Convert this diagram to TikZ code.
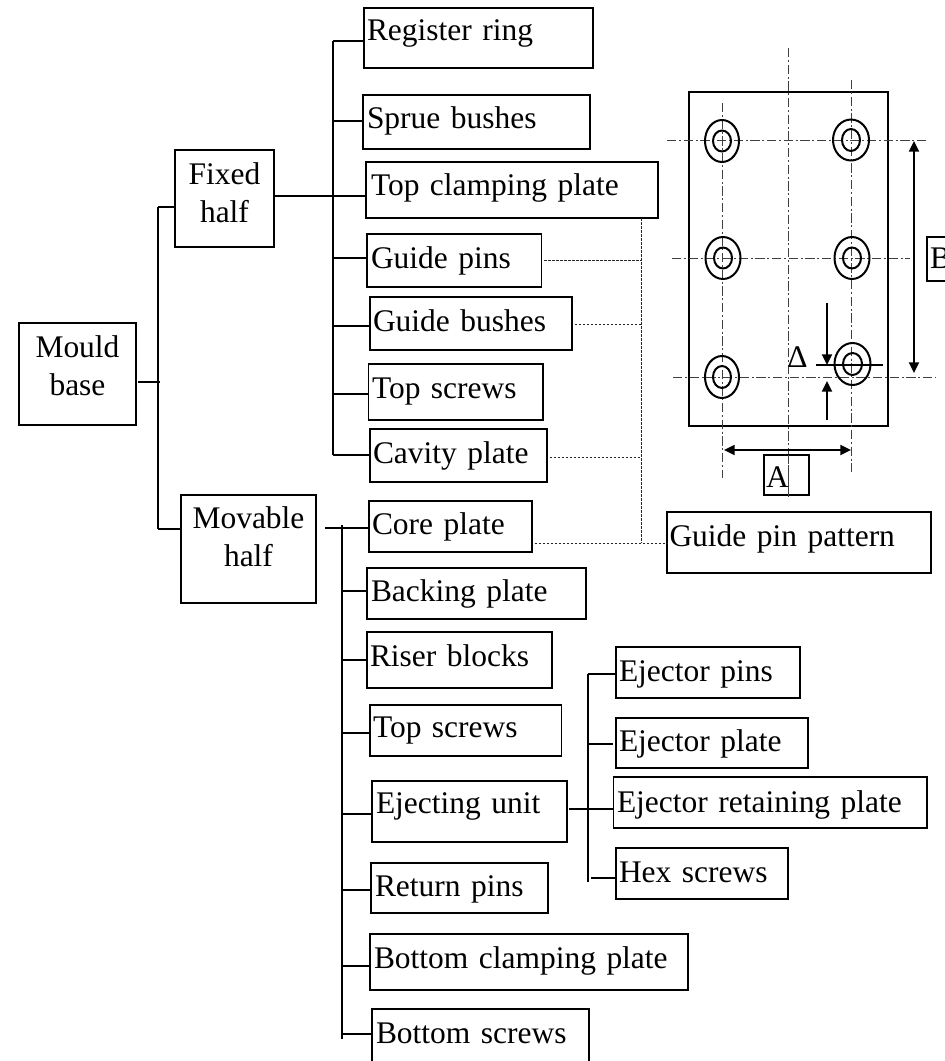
\documentclass[tikz,border=0pt]{standalone}
\usepackage{fontspec}
\setmainfont{Liberation Serif}
\usetikzlibrary{arrows.meta}
\newcommand\bx[9][]{%
  \pgfmathsetmacro\bxw{(#5-#3)*0.75}%
  \pgfmathsetmacro\bxh{(#8-#4)*0.75}%
  \pgfmathsetmacro\bxd{(#6-#8)*0.75}%
  \pgfmathsetmacro\bxi{(#7-#3)*0.75}%
  \node[boxnode,#1,text width=\bxw pt,text height=\bxh pt,text depth=\bxd pt] (#2) at (#3,#4) {\hspace*{\bxi pt}\mbox{#9}};%
}
\newcommand\cx[9][]{%
  \pgfmathsetmacro\bxw{(#5-#3)*0.75}%
  \pgfmathsetmacro\bxh{(#7-#4)*0.75}%
  \pgfmathsetmacro\bxd{(#6-#7)*0.75}%
  \node[boxnode,align=center,#1,text width=\bxw pt,text height=\bxh pt,text depth=\bxd pt] (#2) at (#3,#4) {#8\\#9};%
}
\tikzset{
  x=0.75pt,y=-0.75pt,
  boxnode/.style={draw=black,line width=1.4pt,inner sep=0pt,outer sep=0pt,anchor=north west,align=left,font=\fontsize{23.6}{28.5}\selectfont},
  conn/.style={line width=1.4pt,draw=black},
  dotline/.style={line width=0.7pt,draw=black!85,dash pattern=on 2pt off 1pt},
  centerline/.style={line width=0.7pt,draw=black!75,dash pattern=on 7pt off 2pt on 1.5pt off 2pt},
  hole/.style={line width=1.5pt,draw=black},
  plate/.style={line width=1.4pt,draw=black},
  dimline/.style={line width=1.4pt,draw=black},
  dimarrow/.style={dimline,{Triangle[length=8pt,width=7.5pt]}-{Triangle[length=8pt,width=7.5pt]}},
  onearrow/.style={dimline,-{Triangle[length=8pt,width=7.5pt]}},
}
\begin{document}
\begin{tikzpicture}
\useasboundingbox (0,0) rectangle (945,1061);
% plate drawing
\draw[plate] (689,92) rectangle (888,426);
\coordinate (cvT) at (788,48); \coordinate (cvB) at (788,497);
\coordinate (c1T) at (722,103); \coordinate (c1B) at (722,478);
\coordinate (c2T) at (851,80); \coordinate (c2B) at (851,472);
\coordinate (r1L) at (667,140); \coordinate (r1R) at (926,140);
\coordinate (r2L) at (672,258); \coordinate (r2R) at (910,258);
\coordinate (r3L) at (673,377); \coordinate (r3R) at (936,377);
\draw[centerline] (cvT) -- (cvB);
\draw[centerline] (c1T) -- (c1B);
\draw[centerline] (c2T) -- (c2B);
\draw[centerline] (r1L) -- (r1R);
\draw[centerline] (r2L) -- (r2R);
\draw[centerline] (r3L) -- (r3R);
\foreach \cxx/\cyy/\rx/\ry/\ix/\iy in {722/141/17/21/9/10.5, 851/140/18/20.5/9/11, 723/258/17.5/21/9/10.5, 852/258/17.5/21/9/10.5, 722/377/17/21/9/11, 852.5/364/18/21/9.5/11}{
  \draw[hole] (\cxx,\cyy) ellipse [x radius=\rx,y radius=\ry];
  \draw[hole] (\cxx,\cyy) ellipse [x radius=\ix,y radius=\iy];
}
% top level
\cx{mould}{19}{323}{136}{425}{357}{Mould}{base}
\cx{fixed}{175}{150}{274}{247}{184}{Fixed}{half}
\cx{movable}{181}{495}{316}{603}{528}{Movable}{half}
% fixed half children
\bx{reg}{364}{8}{593}{68}{367}{40}{Register ring}
\bx{sprue}{363}{95}{590}{149}{367}{128}{Sprue bushes}
\bx{tcp}{366}{162}{658}{218}{371}{195}{Top clamping plate}
\bx{gpins}{367}{234}{541.5}{287}{371}{268}{Guide pins}
\bx{gbush}{370}{297}{572}{350}{373}{331}{Guide bushes}
\bx{tscr}{368.5}{364}{543}{420}{372}{398}{Top screws}
\bx{cav}{370}{429}{547}{482}{373}{463}{Cavity plate}
% movable half children
\bx{core}{369}{501}{532}{552}{372}{534}{Core plate}
\bx{back}{367}{568}{586}{619}{371}{601}{Backing plate}
\bx{riser}{367}{632}{552}{688}{370}{666}{Riser blocks}
\bx{tscrb}{370}{705}{561.5}{756}{373}{737}{Top screws}
\bx{eject}{372}{781}{567}{842}{376}{813}{Ejecting unit}
\bx{ret}{371}{863}{548}{913}{375}{896}{Return pins}
\bx{bcp}{370}{934}{688}{990}{374}{968}{Bottom clamping plate}
\bx{bscr}{372}{1009}{589}{1068}{376}{1043}{Bottom screws}
% ejecting unit children
\bx{epins}{616}{647}{800}{698}{619}{681}{Ejector pins}
\bx{eplate}{616}{718}{808}{768}{619}{751}{Ejector plate}
\bx{eret}{613.5}{777}{927}{828}{617}{812}{Ejector retaining plate}
\bx{hex}{616}{848}{788}{899}{619}{882}{Hex screws}
% labels
\bx{gpp}{667}{512}{931}{573}{669.5}{546}{Guide pin pattern}
\bx{dimA}{764}{455}{809}{495}{766}{487}{A}
\bx{dimB}{927}{237}{952}{281}{930}{268}{B}
\node[font=\fontsize{23.6}{27}\selectfont,inner sep=0pt,anchor=base west] (delta) at (787,367) {Δ};
% redraw center line across A box
\draw[centerline] (dimA.north -| cvT) -- (cvB);
% root connectors
\coordinate (mj) at (160,382);
\coordinate (mT) at (158,207);
\coordinate (mB) at (158,529);
\draw[conn,shorten <=1.8pt] (mould.east |- mj) -- (mj);
\draw[conn] (mT) -- (mB);
\draw[conn] (mT) -- (mT -| fixed.west);
\draw[conn] (mB) -- (mB -| movable.west);
% fixed half tree
\coordinate (fT) at (333,41);
\coordinate (fS) at (333,121);
\coordinate (fC) at (333,196);
\coordinate (fG) at (333,258);
\coordinate (fB) at (333,326);
\coordinate (fN) at (333,394);
\coordinate (fV) at (333,455);
\draw[conn] (fT) -- (fV);
\draw[conn] (fT) -- (fT -| reg.west);
\draw[conn] (fS) -- (fS -| sprue.west);
\draw[conn] (fixed.east |- fC) -- (fC -| tcp.west);
\draw[conn] (fG) -- (fG -| gpins.west);
\draw[conn] (fB) -- (fB -| gbush.west);
\draw[conn] (fN) -- (fN -| tscr.west);
\draw[conn] (fV) -- (fV -| cav.west);
% movable half tree
\coordinate (vs) at (325,528);
\coordinate (vT) at (342,525);
\coordinate (vK) at (342,591);
\coordinate (vR) at (342,660);
\coordinate (vN) at (342,733);
\coordinate (vE) at (342,814);
\coordinate (vP) at (342,890);
\coordinate (vL) at (342,966);
\coordinate (vZ) at (342,1034);
\coordinate (vY) at (342,1039);
\draw[conn] (vT) -- (vY);
\draw[conn] (vs) -- (vs -| core.west);
\draw[conn] (vK) -- (vK -| back.west);
\draw[conn] (vR) -- (vR -| riser.west);
\draw[conn] (vN) -- (vN -| tscrb.west);
\draw[conn] (vE) -- (vE -| eject.west);
\draw[conn] (vP) -- (vP -| ret.west);
\draw[conn] (vL) -- (vL -| bcp.west);
\draw[conn] (vZ) -- (vZ -| bscr.west);
% ejecting tree
\coordinate (eT) at (588,674);
\coordinate (eP) at (588,744);
\coordinate (eR) at (588,809);
\coordinate (eH) at (591,878);
\coordinate (eZ) at (588,882);
\draw[conn] (eT) -- (eZ);
\draw[conn] (eT) -- (eT -| epins.west);
\draw[conn,shorten >=2pt] (eP) -- (eP -| eplate.west);
\draw[conn,shorten <=1.5pt] (eject.east |- eR) -- (eR -| eret.west);
\draw[conn] (eH) -- (eH -| hex.west);
% dotted
\coordinate (dT) at (641,218);
\coordinate (d1) at (641,260);
\coordinate (d2) at (641,324);
\coordinate (d3) at (641,457);
\coordinate (d4) at (641,543);
\draw[dotline] (dT) -- (d4);
\draw[dotline,shorten <=2pt] (gpins.east |- d1) -- (d1);
\draw[dotline,shorten <=2pt] (gbush.east |- d2) -- (d2);
\draw[dotline,shorten <=2pt] (cav.east |- d3) -- (d3);
\draw[dotline,shorten <=2pt] (core.east |- d4) -- (d4 -| gpp.west);
% dimensions
\coordinate (bA1) at (914,141); \coordinate (bA2) at (914,373);
\draw[dimarrow] (bA1) -- (bA2);
\coordinate (aA1) at (724,450); \coordinate (aA2) at (851,450);
\draw[dimarrow] (aA1) -- (aA2);
\coordinate (dL) at (816,365); \coordinate (dR) at (883,365);
\draw[dimline] (dL) -- (dR);
\coordinate (dU1) at (827,303); \coordinate (dU2) at (827,365);
\draw[onearrow] (dU1) -- (dU2);
\coordinate (dV1) at (827,420); \coordinate (dV2) at (827,381);
\draw[onearrow] (dV1) -- (dV2);
\end{tikzpicture}
\end{document}
